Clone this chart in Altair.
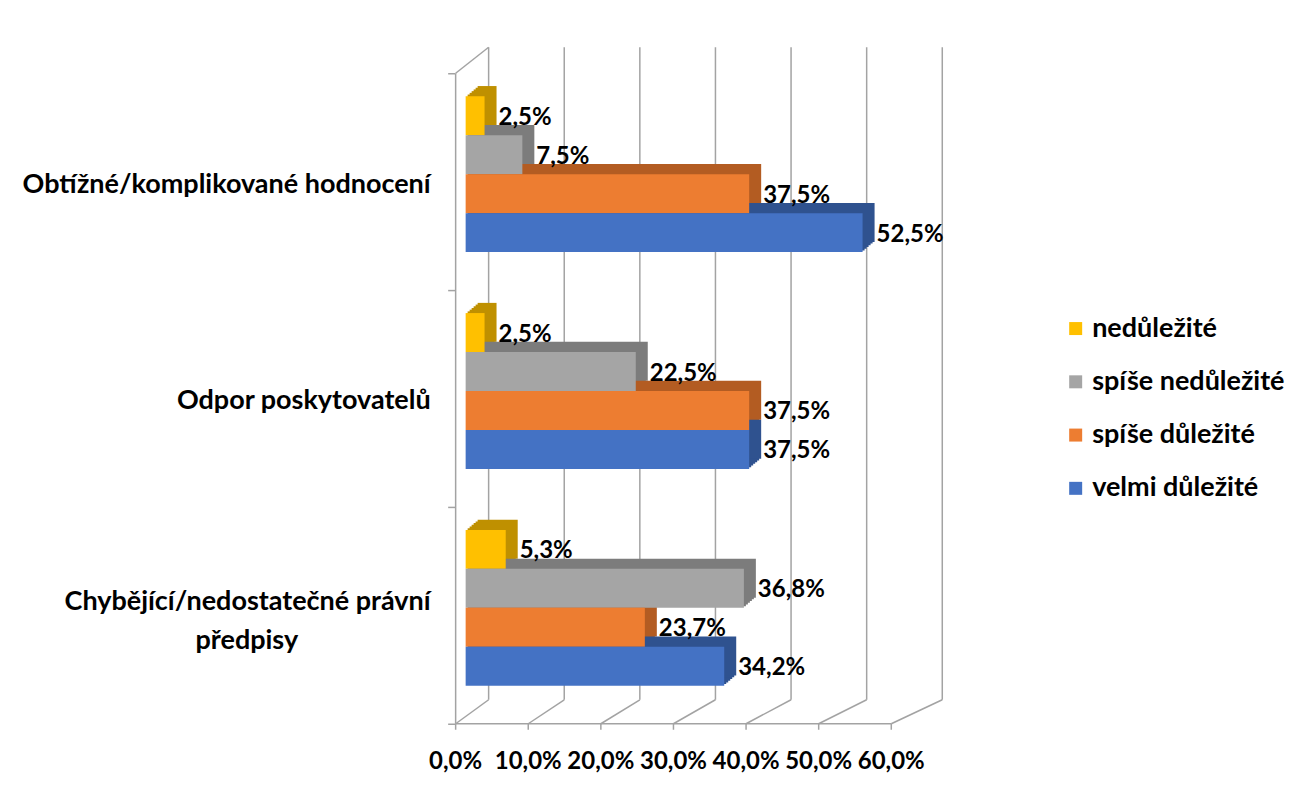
"""3D-style grouped horizontal bar chart: barriers to evaluation (Czech survey)."""
import pandas as pd
import altair as alt

categories = ["Obtížné/komplikované hodnocení", "Odpor poskytovatelů",
              "Chybějící/nedostatečné právní\npředpisy"]
series = ["nedůležité", "spíše nedůležité", "spíše důležité", "velmi důležité"]
nedulezite = [2.5, 2.5, 5.3]
spise_nedulezite = [7.5, 22.5, 36.8]
spise_dulezite = [37.5, 37.5, 23.7]
velmi_dulezite = [52.5, 37.5, 34.2]
x_ticks = [0, 10, 20, 30, 40, 50, 60]

front_colors = ["#FFC000", "#A5A5A5", "#ED7D31", "#4472C4"]
side_colors = ["#BF9000", "#7C7C7C", "#B35C22", "#2F528F"]
GRID = "#a3a3a3"
FONT = "Lato"
FS_NUM = 24
FS_TXT = 27

rows = []
for s, vals in zip(series, [nedulezite, spise_nedulezite, spise_dulezite, velmi_dulezite]):
    for c, v in zip(categories, vals):
        rows.append({"category": c, "series": s, "value": v})
df = pd.DataFrame(rows)

labels = pd.DataFrame({"category": categories})
labels["first"] = [c.split("\n")[0] for c in categories]
labels["rest"] = ["\n" + c.split("\n", 1)[1] if "\n" in c else "" for c in categories]
labels["multi"] = ["\n" in c for c in categories]

ticks = pd.DataFrame({"v": x_ticks})

# front (perspective) axis position expressed in bar units
FRONT = "datum.v * 0.9603 - 1.3228"
PCT = "replace(format({}, '.1f'), '.', ',') + '%'"

x_scale = alt.Scale(domain=[0, 60], nice=False, zero=False)
y_scale = alt.Scale(domain=categories, range=[33, 684], paddingInner=0, paddingOuter=0)
front_off = alt.Scale(domain=series, range=[23, 179], paddingInner=0, paddingOuter=0)
text_off = alt.Scale(domain=series, range=[42.5, 159.5], padding=0)

y_enc = alt.Y("category:N", scale=y_scale, sort=categories, title=None,
              axis=alt.Axis(labels=False, domain=False, grid=False, tickBand="extent",
                            tickSize=7, tickColor=GRID, tickWidth=1.5, offset=11))
x_enc = alt.X("value:Q", scale=x_scale, axis=None)

back_grid = alt.Chart(ticks).mark_rule(color=GRID, strokeWidth=1.5, xOffset=23).encode(
    x=alt.X("v:Q", scale=x_scale, axis=None), y=alt.value(7), y2=alt.value(660))

floor = alt.Chart(ticks).transform_calculate(u=FRONT).mark_rule(
    color=GRID, strokeWidth=1.5, x2Offset=23).encode(
    x=alt.X("u:Q", scale=x_scale, axis=None), x2="v:Q", y=alt.value(684), y2=alt.value(660))

front_line = alt.Chart(ticks).transform_calculate(u=FRONT).transform_aggregate(
    lo="min(u)", hi="max(u)").mark_rule(color=GRID, strokeWidth=1.5).encode(
    x=alt.X("lo:Q", scale=x_scale, axis=None), x2="hi:Q", y=alt.value(684))

front_ticks = alt.Chart(ticks).transform_calculate(u=FRONT).mark_rule(
    color=GRID, strokeWidth=1.5).encode(
    x=alt.X("u:Q", scale=x_scale, axis=None), y=alt.value(684), y2=alt.value(690))

left_wall = alt.Chart(ticks).transform_filter("datum.v == 0").transform_calculate(
    u=FRONT).mark_rule(color=GRID, strokeWidth=1.5).encode(
    x=alt.X("u:Q", scale=x_scale, axis=None), y=alt.value(33), y2=alt.value(684))

left_top = alt.Chart(ticks).transform_filter("datum.v == 0").transform_calculate(
    u=FRONT).mark_rule(color=GRID, strokeWidth=1.5, x2Offset=23).encode(
    x=alt.X("u:Q", scale=x_scale, axis=None), x2="v:Q", y=alt.value(33), y2=alt.value(7))

tick_labels = alt.Chart(ticks).transform_calculate(
    u=FRONT, lbl=PCT.format("datum.v")).mark_text(
    font=FONT, fontSize=FS_NUM, fontWeight="bold", color="black", align="center",
    baseline="middle").encode(
    x=alt.X("u:Q", scale=x_scale, axis=None), y=alt.value(722), text="lbl:N")

# depth faces: a few shifted copies behind the front face give the slanted 3D edge
sides = []
for k in range(1, 7):
    off = alt.Scale(domain=series, range=[23 - 1.7 * k, 179 - 1.7 * k],
                    paddingInner=0, paddingOuter=0)
    sides.append(alt.Chart(df).mark_bar(xOffset=2 * k, x2Offset=2 * k).encode(
        x=x_enc, y=y_enc,
        yOffset=alt.YOffset("series:N", scale=off, sort=series),
        color=alt.Color("series:N", scale=alt.Scale(domain=series, range=side_colors),
                        legend=None),
    ))

bars = alt.Chart(df).mark_bar().encode(
    x=x_enc, y=y_enc,
    yOffset=alt.YOffset("series:N", scale=front_off, sort=series),
    color=alt.Color("series:N", scale=alt.Scale(domain=series, range=front_colors),
                    legend=alt.Legend(title=None, orient="none", legendX=597, legendY=275,
                                      symbolType="square", symbolSize=169,
                                      symbolStrokeWidth=0, labelFont=FONT,
                                      labelFontSize=FS_TXT, labelFontWeight="bold",
                                      labelColor="black", rowPadding=25.3, labelOffset=3,
                                      labelLimit=400)),
)

value_labels = alt.Chart(df).transform_calculate(lbl=PCT.format("datum.value")).mark_text(
    font=FONT, fontSize=FS_NUM, fontWeight="bold", color="black", align="left",
    baseline="middle", dx=14, dy=2).encode(
    x=x_enc, y=y_enc,
    yOffset=alt.YOffset("series:N", scale=text_off, sort=series),
    text="lbl:N",
)

txt = dict(font=FONT, fontSize=FS_TXT, fontWeight="bold", color="black",
           baseline="middle", lineBreak="\n", lineHeight=39)

cat_single = alt.Chart(labels).transform_filter("!datum.multi").mark_text(
    align="right", dy=3, **txt).encode(x=alt.value(-35), y=y_enc, text="first:N")

cat_multi = alt.Chart(labels).transform_filter("datum.multi").mark_text(
    align="right", dy=-13.5, **txt).encode(x=alt.value(-35), y=y_enc, text="first:N")

cat_rest = alt.Chart(labels).transform_filter("datum.multi").mark_text(
    align="center", dy=-13.5, **txt).encode(x=alt.value(-219), y=y_enc, text="rest:N")

chart = alt.layer(
    back_grid, floor, front_line, front_ticks, left_wall, left_top,
    *sides, bars, value_labels, tick_labels, cat_single, cat_multi, cat_rest,
).resolve_scale(
    yOffset="independent", color="independent"
).properties(
    width=454, height=684,
    autosize=alt.AutoSizeParams(type="none"),
    padding={"left": 458, "top": 32, "right": 380, "bottom": 70},
).configure_view(stroke=None)

chart.save("out.html", embed_options={"renderer": "svg", "actions": False})
